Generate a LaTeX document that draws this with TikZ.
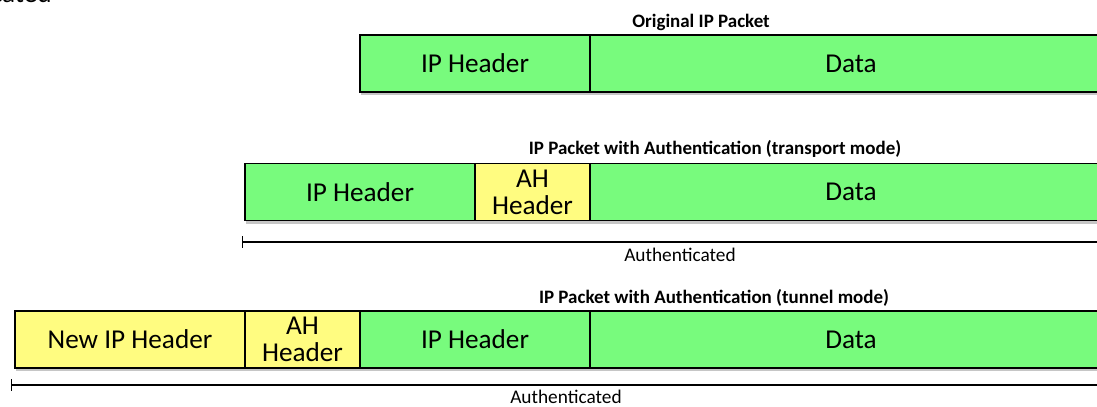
\documentclass[tikz,border=0pt]{standalone}
\usepackage{fontspec}
\setmainfont{Carlito}
\usepackage{tikz}
\usetikzlibrary{arrows,shadows,positioning}

\definecolor{pktgreen}{RGB}{120,251,125}
\definecolor{pktyellow}{RGB}{255,252,128}

\begin{document}
\begin{tikzpicture}[x=0.02cm,y=-0.02cm,
    field/.style={rectangle, draw, thick, inner sep=0pt, minimum height=57*0.02cm,
      align=center, font=\fontsize{15.5}{15.5}\selectfont,
      drop shadow={shadow xshift=0.4pt, shadow yshift=-1.8pt, opacity=0.45}},
    ipf/.style={field, fill=pktgreen},
    ahf/.style={field, fill=pktyellow},
    title/.style={font=\bfseries\fontsize{10.8}{12}\selectfont},
    authlabel/.style={font=\fontsize{11}{13}\selectfont},
    authline/.style={|-, thick}]
      \path[use as bounding box, clip] (0,0) rectangle (1097,406);
      % leftover label at the top edge
      \node[anchor=base east, inner sep=0pt, font=\fontsize{15.5}{17}\selectfont] at (52,2.5) (cut) {Authenticated};
      % original packet
      \node[title] at (701,22) (t1) {Original IP Packet};
      \node[ipf, minimum width=230*0.02cm] at (475,63.5) (ip1) {IP Header};
      \node[ipf, minimum width=522*0.02cm] at (851,63.5) (data1) {Data};
      % transport mode
      \node[title] at (715,149) (t2) {IP Packet with Authentication (transport mode)};
      \node[ipf, minimum width=230*0.02cm] at (360,192) (ip2) {IP Header};
      \node[ahf, minimum width=115*0.02cm] at (532.5,192) (ah2) {AH\\Header};
      \node[ipf, minimum width=522*0.02cm] at (851,192) (data2) {Data};
      \coordinate (a2s) at (242,242);
      \coordinate (a2e) at (1110,242);
      \draw[authline] (a2s) -- (a2e);
      \node[authlabel] at (680,255) (auth2) {Authenticated};
      % tunnel mode
      \node[title] at (714,298) (t3) {IP Packet with Authentication (tunnel mode)};
      \node[ahf, minimum width=230*0.02cm] at (130,339.5) (newip3) {New IP Header};
      \node[ahf, minimum width=115*0.02cm] at (302.5,339.5) (ah3) {AH\\Header};
      \node[ipf, minimum width=230*0.02cm] at (475,339.5) (ip3) {IP Header};
      \node[ipf, minimum width=522*0.02cm] at (851,339.5) (data3) {Data};
      \coordinate (a3s) at (11,385);
      \coordinate (a3e) at (1110,385);
      \draw[authline] (a3s) -- (a3e);
      \node[authlabel] at (566,397) (auth3) {Authenticated};
\end{tikzpicture}
\end{document}
